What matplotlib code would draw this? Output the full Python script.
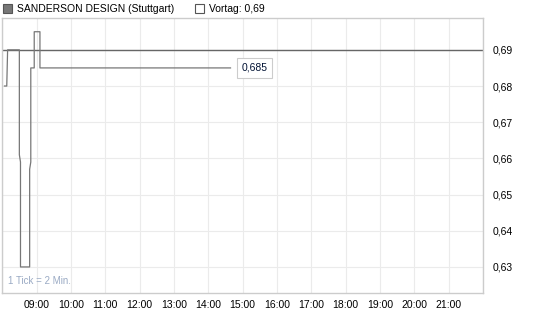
import matplotlib
matplotlib.use("Agg")
import matplotlib.pyplot as plt
from matplotlib.patches import Rectangle

plt.rcParams['font.family'] = ['Liberation Sans', 'DejaVu Sans']

# intraday price points: minutes after 08:00, price
minutes = [4, 8, 9.5, 30, 30, 32, 32, 48, 48, 50, 50, 56, 56, 66, 66, 399]
prices = [0.68, 0.68, 0.69, 0.69, 0.661, 0.659, 0.63, 0.63, 0.657, 0.659,
          0.685, 0.685, 0.695, 0.695, 0.685, 0.685]
prev_close = 0.69
last_price = 0.685
hour_ticks = list(range(9, 22))
y_ticks = [0.63, 0.64, 0.65, 0.66, 0.67, 0.68, 0.69]

hours = [8 + m / 60 for m in minutes]

fig = plt.figure(figsize=(5.45, 3.27), dpi=100)
ax = fig.add_axes([0.004, 0.104, 0.882, 0.841])

ax.set_xlim(8, 22)
ax.set_ylim(0.6228, 0.6988)
ax.set_xticks(hour_ticks)
ax.set_xticklabels([f"{h:02d}:00" for h in hour_ticks])
ax.set_xticks(range(8, 23), minor=True)
ax.set_yticks(y_ticks)
ax.set_yticklabels([f"{v:.2f}".replace(".", ",") for v in y_ticks])
ax.yaxis.tick_right()
ax.tick_params(axis='both', which='both', length=0, labelsize=7.5, colors='#000000', pad=5)
ax.tick_params(axis='y', pad=7)
ax.grid(True, which='both', color='#ebebeb', linewidth=0.8)
ax.set_axisbelow(True)
for s in ax.spines.values():
    s.set_color('#cccccc')
    s.set_linewidth(1)

ax.axhline(prev_close, color='#666666', linewidth=1)
ax.plot(hours, prices, color='#777777', linewidth=0.9)

ax.text(hours[-1] + 0.32, last_price, f"{last_price:.3f}".replace(".", ","),
        fontsize=7.5, color='#001133', va='center', ha='left',
        bbox=dict(boxstyle='square,pad=0.45', fc='white', ec='#cccccc', lw=0.8))

ax.text(0.012, 0.025, "1 Tick = 2 Min.", transform=ax.transAxes,
        fontsize=7, color='#9aaac4', ha='left', va='bottom')

# header legend
fig.patches.append(Rectangle((3 / 545, 1 - 13 / 327), 9 / 545, 9 / 327,
                             transform=fig.transFigure, fc='#777777', ec='#555555', lw=0.8))
fig.text(17 / 545, 1 - 8.5 / 327, "SANDERSON DESIGN (Stuttgart)", fontsize=7.5,
         va='center', ha='left')
fig.patches.append(Rectangle((195 / 545, 1 - 13 / 327), 9 / 545, 9 / 327,
                             transform=fig.transFigure, fc='white', ec='#555555', lw=0.8))
fig.text(209 / 545, 1 - 8.5 / 327, "Vortag: 0,69", fontsize=7.5,
         va='center', ha='left')

fig.savefig("out.png", dpi=100)
